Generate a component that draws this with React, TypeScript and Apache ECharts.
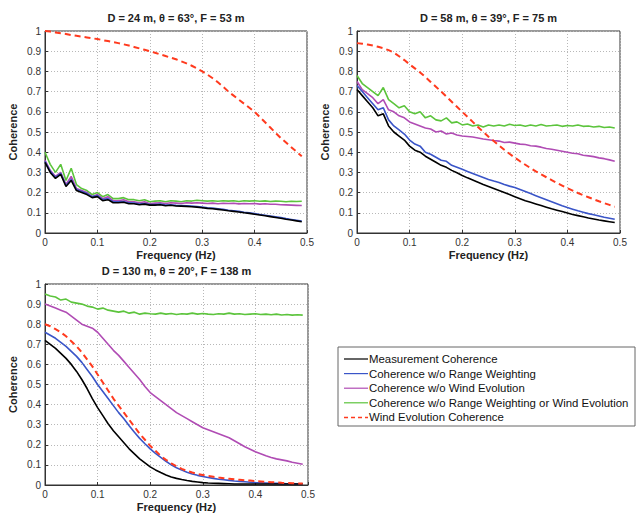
import React, { useEffect, useRef } from "react";
import * as echarts from "echarts";

const FREQ = [
  0, 0.01, 0.02, 0.03, 0.04, 0.05, 0.06, 0.07, 0.08, 0.09,
  0.1, 0.11, 0.12, 0.13, 0.14, 0.15, 0.16, 0.17, 0.18, 0.19,
  0.2, 0.21, 0.22, 0.23, 0.24, 0.25, 0.26, 0.27, 0.28, 0.29,
  0.3, 0.31, 0.32, 0.33, 0.34, 0.35, 0.36, 0.37, 0.38, 0.39,
  0.4, 0.41, 0.42, 0.43, 0.44, 0.45, 0.46, 0.47, 0.48, 0.49,
];

const SERIES_NAMES = [
  "Measurement Coherence",
  "Coherence w/o Range Weighting",
  "Coherence w/o Wind Evolution",
  "Coherence w/o Range Weighting or Wind Evolution",
  "Wind Evolution Coherence",
];

const TITLES = [
  "D = 24 m, θ = 63°, F = 53 m",
  "D = 58 m, θ = 39°, F = 75 m",
  "D = 130 m, θ = 20°, F = 138 m",
];

// Panel 1 (D = 24 m)
const P1_MEAS = [
  0.35, 0.30, 0.27, 0.29, 0.23, 0.26, 0.21, 0.20, 0.19, 0.175,
  0.18, 0.16, 0.165, 0.15, 0.15, 0.152, 0.145, 0.145, 0.14, 0.143,
  0.138, 0.138, 0.14, 0.135, 0.137, 0.134, 0.133, 0.132, 0.13, 0.128,
  0.125, 0.122, 0.12, 0.117, 0.114, 0.11, 0.107, 0.104, 0.1, 0.097,
  0.093, 0.089, 0.085, 0.081, 0.077, 0.073, 0.068, 0.064, 0.06, 0.056,
];
const P1_NORANGE = [
  0.355, 0.305, 0.275, 0.295, 0.235, 0.265, 0.215, 0.205, 0.195, 0.18,
  0.185, 0.165, 0.17, 0.155, 0.155, 0.156, 0.149, 0.148, 0.143, 0.146,
  0.141, 0.141, 0.143, 0.138, 0.14, 0.137, 0.136, 0.135, 0.133, 0.131,
  0.128, 0.125, 0.123, 0.12, 0.117, 0.113, 0.11, 0.107, 0.103, 0.1,
  0.096, 0.092, 0.088, 0.084, 0.08, 0.076, 0.071, 0.067, 0.063, 0.059,
];
const P1_NOWIND = [
  0.36, 0.31, 0.28, 0.30, 0.24, 0.28, 0.22, 0.21, 0.20, 0.18,
  0.19, 0.17, 0.18, 0.16, 0.16, 0.165, 0.155, 0.155, 0.15, 0.155,
  0.145, 0.148, 0.15, 0.146, 0.15, 0.148, 0.146, 0.15, 0.148, 0.15,
  0.148, 0.146, 0.148, 0.145, 0.147, 0.146, 0.147, 0.144, 0.146, 0.145,
  0.146, 0.143, 0.145, 0.142, 0.142, 0.14, 0.139, 0.138, 0.137, 0.136,
];
const P1_NOBOTH = [
  0.40, 0.34, 0.30, 0.34, 0.26, 0.32, 0.24, 0.22, 0.21, 0.19,
  0.20, 0.18, 0.19, 0.17, 0.17, 0.175, 0.165, 0.165, 0.16, 0.165,
  0.155, 0.158, 0.16, 0.155, 0.16, 0.158, 0.155, 0.16, 0.158, 0.162,
  0.16, 0.158, 0.16, 0.157, 0.16, 0.158, 0.16, 0.156, 0.16, 0.158,
  0.16, 0.157, 0.159, 0.156, 0.158, 0.157, 0.155, 0.157, 0.156, 0.157,
];
const P1_WINDEVO = [
  1.0, 0.997, 0.993, 0.989, 0.985, 0.98, 0.976, 0.972, 0.968, 0.964,
  0.96, 0.955, 0.95, 0.945, 0.94, 0.934, 0.928, 0.921, 0.914, 0.907,
  0.9, 0.892, 0.884, 0.876, 0.868, 0.86, 0.85, 0.84, 0.828, 0.815,
  0.8, 0.784, 0.766, 0.746, 0.724, 0.7, 0.68, 0.66, 0.64, 0.62,
  0.6, 0.574, 0.548, 0.522, 0.496, 0.47, 0.448, 0.425, 0.402, 0.38,
];

// Panel 2 (D = 58 m)
const P2_MEAS = [
  0.71, 0.68, 0.65, 0.62, 0.58, 0.59, 0.53, 0.50, 0.48, 0.46,
  0.43, 0.41, 0.40, 0.38, 0.365, 0.35, 0.335, 0.325, 0.31, 0.298,
  0.285, 0.273, 0.262, 0.251, 0.24, 0.23, 0.22, 0.21, 0.2, 0.19,
  0.18, 0.17, 0.16, 0.152, 0.144, 0.136, 0.128, 0.12, 0.113, 0.106,
  0.099, 0.092, 0.086, 0.08, 0.074, 0.069, 0.064, 0.06, 0.056, 0.052,
];
const P2_NORANGE = [
  0.73, 0.70, 0.67, 0.64, 0.61, 0.62, 0.56, 0.53, 0.51, 0.49,
  0.46, 0.44, 0.43, 0.40, 0.39, 0.375, 0.36, 0.355, 0.335, 0.325,
  0.315, 0.305, 0.295, 0.285, 0.275, 0.265, 0.257, 0.25, 0.24, 0.232,
  0.225, 0.215, 0.205, 0.195, 0.185, 0.175, 0.165, 0.155, 0.145, 0.135,
  0.126, 0.118, 0.11, 0.103, 0.096, 0.09, 0.084, 0.078, 0.073, 0.068,
];
const P2_NOWIND = [
  0.75, 0.71, 0.69, 0.67, 0.64, 0.66, 0.61, 0.60, 0.58, 0.57,
  0.55, 0.54, 0.53, 0.52, 0.515, 0.50, 0.505, 0.49, 0.495, 0.485,
  0.48, 0.478, 0.475, 0.47, 0.465, 0.462, 0.458, 0.455, 0.448, 0.45,
  0.445, 0.44, 0.438, 0.432, 0.43, 0.425, 0.418, 0.415, 0.41, 0.405,
  0.4, 0.395, 0.392, 0.385, 0.382, 0.378, 0.372, 0.368, 0.362, 0.355,
];
const P2_NOBOTH = [
  0.78, 0.74, 0.72, 0.70, 0.68, 0.72, 0.66, 0.64, 0.62, 0.63,
  0.60, 0.59, 0.60, 0.57, 0.58, 0.56, 0.555, 0.57, 0.545, 0.55,
  0.535, 0.54, 0.53, 0.535, 0.525, 0.535, 0.53, 0.535, 0.53, 0.538,
  0.532, 0.535, 0.528, 0.535, 0.53, 0.537, 0.53, 0.532, 0.535, 0.528,
  0.532, 0.53, 0.535, 0.528, 0.53, 0.525, 0.528, 0.522, 0.525, 0.52,
];
const P2_WINDEVO = [
  0.94, 0.937, 0.933, 0.928, 0.922, 0.915, 0.905, 0.893, 0.875, 0.856,
  0.835, 0.815, 0.795, 0.772, 0.748, 0.724, 0.7, 0.675, 0.65, 0.625,
  0.6, 0.575, 0.55, 0.525, 0.5, 0.477, 0.455, 0.433, 0.412, 0.392,
  0.373, 0.355, 0.338, 0.321, 0.305, 0.29, 0.276, 0.262, 0.248, 0.235,
  0.222, 0.21, 0.198, 0.187, 0.177, 0.167, 0.157, 0.148, 0.139, 0.13,
];

// Panel 3 (D = 130 m)
const P3_MEAS = [
  0.72, 0.70, 0.68, 0.655, 0.63, 0.60, 0.565, 0.525, 0.48, 0.43,
  0.385, 0.345, 0.305, 0.27, 0.24, 0.21, 0.18, 0.155, 0.13, 0.11,
  0.09, 0.075, 0.062, 0.05, 0.04, 0.033, 0.027, 0.022, 0.018, 0.015,
  0.012, 0.01, 0.009, 0.008, 0.007, 0.006, 0.005, 0.005, 0.005, 0.005,
  0.005, 0.005, 0.005, 0.005, 0.005, 0.005, 0.005, 0.005, 0.005, 0.005,
];
const P3_NORANGE = [
  0.76, 0.745, 0.73, 0.71, 0.69, 0.665, 0.64, 0.61, 0.575, 0.54,
  0.5, 0.465, 0.43, 0.395, 0.36, 0.33, 0.295, 0.262, 0.232, 0.205,
  0.18, 0.157, 0.137, 0.118, 0.1, 0.086, 0.074, 0.064, 0.055, 0.048,
  0.042, 0.037, 0.033, 0.029, 0.026, 0.023, 0.02, 0.018, 0.016, 0.014,
  0.012, 0.011, 0.01, 0.009, 0.008, 0.007, 0.006, 0.006, 0.005, 0.005,
];
const P3_NOWIND = [
  0.9, 0.89, 0.88, 0.87, 0.86, 0.84, 0.82, 0.8, 0.79, 0.78,
  0.76, 0.73, 0.7, 0.67, 0.645, 0.615, 0.585, 0.555, 0.525, 0.49,
  0.46, 0.44, 0.42, 0.4, 0.38, 0.36, 0.345, 0.33, 0.315, 0.3,
  0.285, 0.275, 0.265, 0.255, 0.245, 0.235, 0.22, 0.205, 0.19, 0.178,
  0.165, 0.155, 0.145, 0.137, 0.13, 0.125, 0.12, 0.113, 0.108, 0.103,
];
const P3_NOBOTH = [
  0.95, 0.94, 0.935, 0.92, 0.925, 0.91, 0.905, 0.9, 0.89, 0.885,
  0.875, 0.88, 0.87, 0.865, 0.86, 0.865, 0.855, 0.86, 0.85, 0.855,
  0.852, 0.85, 0.855, 0.85, 0.853, 0.848, 0.852, 0.85, 0.855, 0.85,
  0.853, 0.85, 0.848, 0.852, 0.85, 0.855, 0.85, 0.852, 0.848, 0.85,
  0.852, 0.848, 0.85, 0.847, 0.85, 0.846, 0.848, 0.845, 0.847, 0.845,
];
const P3_WINDEVO = [
  0.8, 0.79, 0.775, 0.76, 0.74, 0.715, 0.69, 0.66, 0.625, 0.59,
  0.55, 0.51, 0.47, 0.43, 0.395, 0.36, 0.325, 0.29, 0.255, 0.225,
  0.195, 0.17, 0.145, 0.125, 0.108, 0.093, 0.08, 0.07, 0.062, 0.055,
  0.05, 0.045, 0.041, 0.037, 0.034, 0.031, 0.028, 0.026, 0.024, 0.022,
  0.02, 0.018, 0.016, 0.014, 0.013, 0.011, 0.01, 0.009, 0.008, 0.007,
];

const PANELS = [
  [P1_MEAS, P1_NORANGE, P1_NOWIND, P1_NOBOTH, P1_WINDEVO],
  [P2_MEAS, P2_NORANGE, P2_NOWIND, P2_NOBOTH, P2_WINDEVO],
  [P3_MEAS, P3_NORANGE, P3_NOWIND, P3_NOBOTH, P3_WINDEVO],
];

const COLORS = ["#000000", "#3a55c8", "#b04cb4", "#5cc43c", "#ff3a1e"];
const FONT = "Liberation Sans, Arial, sans-serif";

export default function App() {
  const ref = useRef<HTMLDivElement>(null);
  useEffect(() => {
    if (!ref.current) return;
    const chart = echarts.init(ref.current, null, { renderer: "svg" });
    const grids = [
      { left: 45, top: 31, width: 262, height: 202 },
      { left: 357, top: 31, width: 263, height: 202 },
      { left: 45, top: 284, width: 263, height: 203 },
    ];
    const xAxis = grids.map((_, i) => ({
      type: "value",
      gridIndex: i,
      min: 0,
      max: 0.5,
      interval: 0.1,
      name: "Frequency (Hz)",
      nameLocation: "middle",
      nameGap: 16,
      nameTextStyle: { fontFamily: FONT, fontSize: 11, fontWeight: "bold", color: "#222" },
      axisLine: { show: true, lineStyle: { color: "#333", width: 1 } },
      axisTick: { show: true, inside: true, length: 3, lineStyle: { color: "#333" } },
      axisLabel: { fontFamily: FONT, fontSize: 10, color: "#333", margin: 4 },
      splitLine: { show: true, lineStyle: { color: "#b8b8b8", type: [1, 2], width: 1 } },
    }));
    const yAxis = grids.map((_, i) => ({
      type: "value",
      gridIndex: i,
      min: 0,
      max: 1,
      interval: 0.1,
      name: "Coherence",
      nameLocation: "middle",
      nameGap: 27,
      nameRotate: 90,
      nameTextStyle: { fontFamily: FONT, fontSize: 11, fontWeight: "bold", color: "#222" },
      axisLine: { show: true, lineStyle: { color: "#333", width: 1 } },
      axisTick: { show: true, inside: true, length: 3, lineStyle: { color: "#333" } },
      axisLabel: { fontFamily: FONT, fontSize: 10, color: "#333", margin: 4 },
      splitLine: { show: true, lineStyle: { color: "#b8b8b8", type: [1, 2], width: 1 } },
    }));
    const series: any[] = [];
    PANELS.forEach((panel, p) => {
      panel.forEach((vals, k) => {
        series.push({
          type: "line",
          name: SERIES_NAMES[k],
          xAxisIndex: p,
          yAxisIndex: p,
          symbol: "none",
          data: FREQ.map((f, j) => [f, vals[j]]),
          z: k === 4 ? 5 : 2 + (3 - k) * 0.1,
          lineStyle: {
            color: COLORS[k],
            width: k === 4 ? 2 : 1.6,
            type: k === 4 ? [6, 4] : "solid",
          },
          itemStyle: { color: COLORS[k] },
        });
      });
    });
    const titles = TITLES.map((t, i) => ({
      type: "text",
      x: grids[i].left + grids[i].width / 2,
      y: grids[i].top - 19,
      style: {
        text: t,
        fontFamily: FONT,
        fontSize: 11,
        fontWeight: "bold",
        fill: "#222",
        textAlign: "center",
      },
    }));
    // Legend box drawn manually
    const LX = 338;
    const LY = 347;
    const legendEls: any[] = [
      {
        type: "rect",
        shape: { x: LX, y: LY, width: 297, height: 79 },
        style: { fill: "#fff", stroke: "#666", lineWidth: 1 },
        z: 10,
      },
    ];
    SERIES_NAMES.forEach((name, k) => {
      const cy = 359 + k * 14.6;
      legendEls.push({
        type: "line",
        shape: { x1: 344, y1: cy, x2: 368, y2: cy },
        style: {
          stroke: COLORS[k],
          lineWidth: k === 4 ? 1.5 : 1.2,
          lineDash: k === 4 ? [4, 3] : null,
        },
        z: 11,
      });
      legendEls.push({
        type: "text",
        x: 369,
        y: cy,
        style: {
          text: name,
          fontFamily: FONT,
          fontSize: 11.4,
          fill: "#111",
          textVerticalAlign: "middle",
          textAlign: "left",
        },
        z: 11,
      });
    });
    chart.setOption({
      animation: false,
      backgroundColor: "#ffffff",
      grid: grids.map((g) => ({ ...g, show: true, borderColor: "#333", borderWidth: 1, backgroundColor: "transparent" })),
      xAxis,
      yAxis,
      series,
      graphic: [...titles, ...legendEls],
    });
    return () => chart.dispose();
  }, []);
  return (
    <div
      ref={ref}
      style={{ position: "fixed", left: 0, top: 0, width: 644, height: 513, background: "#fff" }}
    />
  );
}
